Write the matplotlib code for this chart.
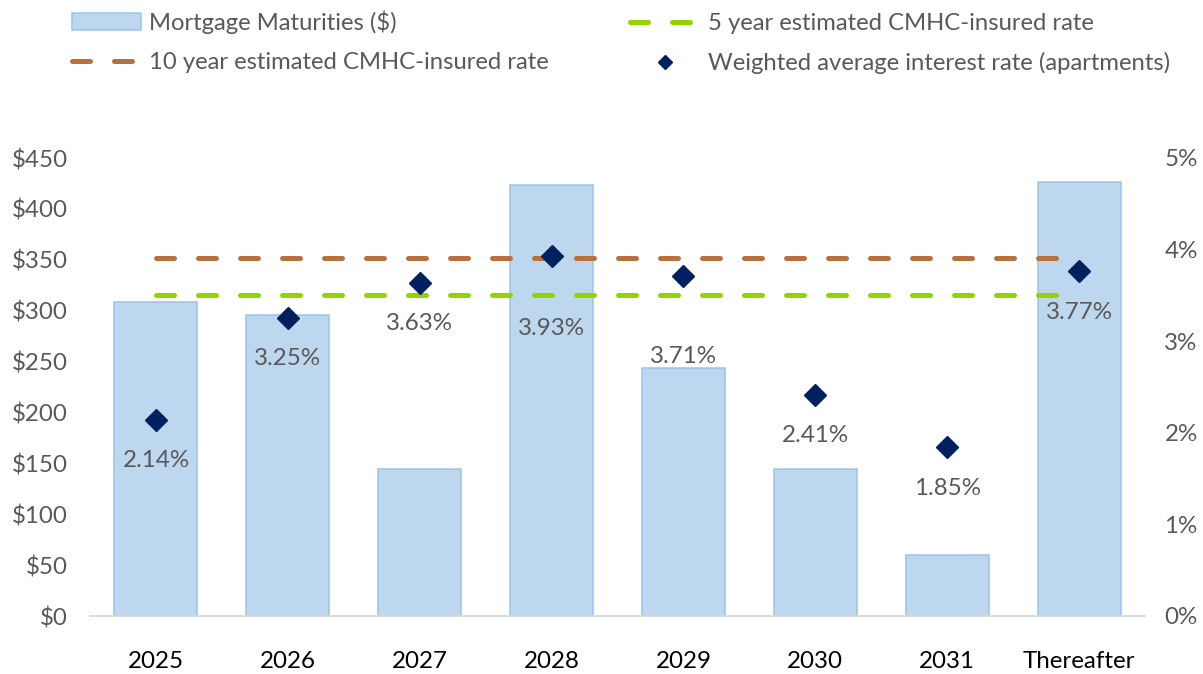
import matplotlib
matplotlib.use("Agg")
import matplotlib.pyplot as plt
from matplotlib.lines import Line2D
from matplotlib.patches import Patch

plt.rcParams['font.family'] = ['Lato', 'DejaVu Sans']

categories = ["2025", "2026", "2027", "2028", "2029", "2030", "2031", "Thereafter"]
maturities = [309, 296, 144, 423, 244, 144, 60, 426]
avg_rates = [2.14, 3.25, 3.63, 3.93, 3.71, 2.41, 1.85, 3.77]
rate_10yr = 3.91
rate_5yr = 3.50
left_ticks = [0, 50, 100, 150, 200, 250, 300, 350, 400, 450]
right_ticks = [0, 1, 2, 3, 4, 5]
# vertical offset (points) of each rate label below its marker
label_offsets = [-29, -29, -29, -52, -58, -29, -30, -30]

TEXT_GRAY = "#595959"
BAR_FILL = "#BDD7EE"
BAR_EDGE = "#9DC3E6"
BROWN = "#B8703F"
GREEN = "#92D400"
NAVY = "#002060"
FS = 17.4
LEG_FS = 17.2

fig = plt.figure(figsize=(12.03, 6.74), dpi=100)
ax = fig.add_axes([90 / 1203, 1 - 616 / 674, (1145 - 90) / 1203, (616 - 158) / 674])
ax2 = ax.twinx()

x = list(range(len(categories)))
ax.bar(x, maturities, width=0.63, color=BAR_FILL, edgecolor=BAR_EDGE, linewidth=1.1, zorder=2)
ax.set_xlim(-0.5, len(categories) - 0.5)
ax.set_ylim(0, 450)
ax.set_yticks(left_ticks)
ax.set_yticklabels([f"${v}" for v in left_ticks])
ax.set_xticks(x)
ax.set_xticklabels(categories)
ax.tick_params(axis='y', length=0, pad=16, labelsize=FS, labelcolor=TEXT_GRAY)
ax.tick_params(axis='x', length=0, pad=25, labelsize=FS, labelcolor="black")
for s in ["top", "left", "right"]:
    ax.spines[s].set_visible(False)
ax.spines["bottom"].set_color("#D9D9D9")
ax.spines["bottom"].set_linewidth(1.3)

ax2.set_ylim(0, 5)
ax2.set_yticks(right_ticks)
ax2.set_yticklabels([f"{v}%" for v in right_ticks])
ax2.tick_params(axis='y', length=0, pad=14, labelsize=FS, labelcolor=TEXT_GRAY)
for s in ["top", "left", "right", "bottom"]:
    ax2.spines[s].set_visible(False)

dash_kw = dict(linewidth=3.6, dash_capstyle='round', dashes=(3.6, 4.8))
ax2.plot([0, len(categories) - 1], [rate_10yr, rate_10yr], color=BROWN, zorder=3, **dash_kw)
ax2.plot([0, len(categories) - 1], [rate_5yr, rate_5yr], color=GREEN, zorder=3, **dash_kw)
ax2.plot(x, avg_rates, linestyle='none', marker='D', markersize=11, color=NAVY, zorder=4)

for xi, r, off in zip(x, avg_rates, label_offsets):
    ax2.annotate(f"{r:.2f}%", (xi, r), xytext=(0, off), textcoords='offset points',
                 ha='center', va='center', fontsize=FS, color=TEXT_GRAY, zorder=5)

handles = [
    Patch(facecolor=BAR_FILL, edgecolor=BAR_EDGE, linewidth=1.1),
    Line2D([], [], color=BROWN, **dash_kw),
    Line2D([], [], color=GREEN, **dash_kw),
    Line2D([], [], linestyle='none', marker='D', markersize=7, color=NAVY),
]
labels = ["Mortgage Maturities ($)", "10 year estimated CMHC-insured rate",
          "5 year estimated CMHC-insured rate", "Weighted average interest rate (apartments)"]
leg = fig.legend(handles, labels, ncol=2, loc='upper left', bbox_to_anchor=(62 / 1203, 1 - 1 / 674),
                 frameon=False, fontsize=LEG_FS, handlelength=2.9, handletextpad=0.35,
                 columnspacing=3.4, labelspacing=0.75, borderaxespad=0)
for t in leg.get_texts():
    t.set_color(TEXT_GRAY)

fig.savefig("out.png", dpi=100)
